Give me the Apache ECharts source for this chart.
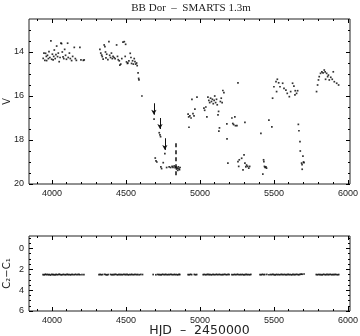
<!DOCTYPE html>
<html>
<head>
<meta charset="utf-8">
<title>BB Dor - SMARTS 1.3m</title>
<script src="https://cdn.jsdelivr.net/npm/echarts@6/dist/echarts.min.js"></script>
<style>
  html, body { margin: 0; padding: 0; background: #fff; }
  #chart { width: 360px; height: 336px; }
</style>
</head>
<body>
<div id="chart"></div>
<script>
// V light curve (HJD - 2450000, mag)
const hjd = [
  3941, 3946, 3952, 3957, 3962, 3964, 3970, 3976, 3980, 3986, 3993, 3998, 4003, 4008, 4012, 4016, 4022, 4027, 4032, 4038, 4043, 4049,
  4055, 4061, 4065, 4070, 4075, 4080, 4086, 4092, 4098, 4106, 4110, 4118, 4124, 4133, 4140, 4151, 4158, 4165, 4189, 4196, 4212, 4218,
  4324, 4330, 4336, 4340, 4346, 4353, 4358, 4362, 4365, 4370, 4378, 4385, 4390, 4396, 4402, 4408, 4413, 4420, 4427, 4437, 4443, 4448,
  4455, 4459, 4465, 4472, 4480, 4489, 4495, 4498, 4504, 4510, 4513, 4520, 4529, 4534, 4538, 4545, 4550, 4556, 4561, 4566, 4572, 4576,
  4582, 4586, 4588, 4608,
  4690, 4698, 4703, 4709, 4725, 4730, 4734, 4736, 4741, 4752, 4763, 4775, 4792, 4802, 4812, 4818, 4826, 4832, 4838, 4842, 4846, 4850,
  4854, 4858, 4862, 4866,
  4920, 4924, 4926, 4932, 4940, 4946, 4953, 4960, 4966, 4980,
  5027, 5032, 5040, 5047, 5054, 5060, 5066, 5072, 5078, 5084, 5090, 5096, 5100, 5106, 5112, 5117, 5122, 5126, 5128, 5132, 5138, 5144,
  5150, 5155, 5162, 5182, 5183, 5189,
  5216, 5222, 5228, 5236, 5240, 5250, 5257, 5304,
  5257, 5262, 5266, 5282, 5291, 5298, 5304, 5310, 5315, 5322, 5330, 5336,
  5412, 5425, 5430, 5432, 5436, 5440, 5446, 5450, 5466, 5486,
  5491, 5500, 5514, 5518, 5523, 5532, 5541, 5559, 5568, 5581, 5590, 5604, 5613, 5626, 5635, 5642, 5644, 5653, 5660,
  5665, 5669, 5676, 5678, 5687, 5690, 5691, 5696, 5700, 5703,
  5788, 5795, 5801, 5806, 5815, 5824, 5832, 5840, 5846, 5849, 5856, 5863, 5868, 5874, 5884, 5894, 5901, 5908, 5924, 5937
];
const vmag = [
  14.29, 14.05, 14.38, 14.06, 14.2, 14.39, 14.15, 14.3, 13.98, 14.25, 13.49, 14.33, 14.1, 14.36, 14.2, 13.91, 14.3, 14.12, 13.73, 14.21, 14.05, 14.44,
  14.25, 13.6, 13.62, 14.0, 14.22, 14.3, 13.88, 14.15, 14.33, 13.6, 14.25, 14.05, 14.3, 14.39, 14.2, 13.79, 14.3, 14.38, 13.79, 14.36, 14.38, 14.36,
  13.88, 14.05, 14.14, 14.21, 14.32, 13.68, 13.76, 14.0, 14.27, 14.1, 14.35, 13.53, 14.15, 14.25, 14.05, 14.3, 14.2, 14.25, 14.3, 13.68, 14.2, 14.35,
  14.4, 14.6, 14.55, 14.3, 13.55, 13.53, 14.2, 13.65, 14.45, 14.52, 14.5, 14.4, 14.06, 14.25, 14.52, 14.4, 14.55, 14.3, 14.44, 14.55, 14.5, 14.62,
  14.95, 15.2, 15.27, 16.0,
  17.05, 18.82, 18.95, 19.0, 17.67, 17.77, 17.85, 19.22, 19.3, 19.03, 18.62, 19.25, 19.22, 19.25, 19.2, 19.24, 19.18, 19.26, 19.22, 19.32, 19.28, 19.38,
  19.22, 19.3, 19.35, 19.25,
  16.82, 16.95, 17.42, 16.9, 17.0, 16.15, 16.8, 16.9, 16.6, 16.05,
  16.55, 16.65, 16.5, 16.95, 16.05, 16.2, 16.3, 16.1, 16.25, 16.15, 16.35, 16.2, 16.0, 16.3, 16.15, 16.4, 16.86, 16.7, 17.6, 17.45, 16.25, 16.1,
  16.3, 15.75, 15.85, 17.27, 17.95, 19.05,
  17.0, 17.25, 17.3, 16.95, 17.35, 17.35, 15.4, 17.2,
  18.98, 19.2, 18.9, 18.83, 19.36, 18.68, 19.05, 19.22, 19.14, 19.2, 19.28, 19.2,
  17.7, 19.55, 18.9, 18.98, 19.2, 19.25, 19.22, 19.28, 17.1, 17.4,
  16.1, 15.58, 15.35, 15.8, 15.24, 15.4, 15.58, 15.42, 15.65, 15.73, 15.88, 16.03, 15.8, 15.42, 15.55, 15.95, 15.76, 15.88, 15.76,
  17.29, 17.58, 18.07, 18.5, 19.05, 19.12, 19.33, 18.73, 19.0, 19.03,
  15.8, 15.5, 15.27, 15.12, 14.97, 14.9, 14.95, 14.82, 14.9, 15.24, 14.97, 15.12, 15.05, 15.27, 15.15, 15.24, 14.9, 15.35, 15.42, 15.5
];

// upper limits (arrows) and the dashed bar
const limitHjd = [4689, 4730, 4763];
const limitFrom = [16.33, 17.0, 17.92];
const limitTo = [16.85, 17.5, 18.45];
const barHjd = [4836];
const barFrom = [18.15];
const barTo = [19.72];

// comparison stars C2 - C1
const colorHjd = [
  3940, 3948, 3955, 3962, 3970, 3977, 3984, 3991, 3999, 4006, 4013, 4021, 4028, 4035, 4043, 4050, 4057, 4065, 4072, 4080, 4088, 4095,
  4103, 4110, 4118, 4126, 4133, 4141, 4150, 4158, 4166, 4175, 4183, 4190, 4203, 4216,
  4318, 4326, 4334, 4342, 4356, 4364, 4372, 4380, 4396, 4404, 4412, 4420, 4428, 4436, 4444, 4452, 4460, 4468, 4476, 4484, 4492, 4500,
  4508, 4516, 4524, 4532, 4540, 4548, 4556, 4564, 4572, 4580, 4590, 4600, 4612,
  4684, 4702, 4714, 4722, 4730, 4738, 4746, 4754, 4762, 4770, 4778, 4786, 4794, 4802, 4810, 4818, 4826, 4834, 4842, 4850, 4858, 4864,
  4920, 4928, 4936, 4944, 4962, 4970, 4978,
  5022, 5030, 5038, 5046, 5054, 5062, 5070, 5078, 5086, 5094, 5102, 5110, 5118, 5126, 5134, 5142, 5150, 5158, 5166, 5174, 5182, 5190, 5198,
  5216, 5224, 5232, 5240, 5248, 5256, 5264, 5272, 5280, 5288, 5296, 5304, 5312, 5320, 5328, 5336, 5344,
  5406, 5414, 5422, 5430, 5438, 5452, 5466, 5476, 5484, 5492, 5500, 5508, 5516, 5524, 5532, 5540, 5548, 5556, 5564, 5572, 5580, 5588,
  5596, 5604, 5612, 5620, 5628, 5636, 5644, 5652, 5660, 5668, 5676, 5684, 5692, 5704,
  5786, 5794, 5802, 5810, 5818, 5826, 5834, 5842, 5850, 5858, 5866, 5874, 5882, 5890, 5898, 5906, 5914, 5922, 5930, 5938
];
const colorVal = [
  2.50, 2.53, 2.47, 2.51, 2.49, 2.52, 2.50, 2.55, 2.48, 2.51, 2.50, 2.53, 2.49, 2.52, 2.50, 2.47, 2.51, 2.53, 2.50, 2.49, 2.52, 2.50,
  2.48, 2.51, 2.50, 2.53, 2.49, 2.50, 2.52, 2.48, 2.51, 2.50, 2.49, 2.52, 2.50, 2.51,
  2.51, 2.49, 2.52, 2.50, 2.48, 2.51, 2.53, 2.50, 2.49, 2.52, 2.50, 2.51, 2.48, 2.50, 2.53, 2.49, 2.51, 2.50, 2.52, 2.48, 2.50, 2.51,
  2.49, 2.53, 2.50, 2.51, 2.48, 2.52, 2.50, 2.49, 2.51, 2.50, 2.52, 2.49, 2.50,
  2.50, 2.52, 2.49, 2.51, 2.50, 2.53, 2.48, 2.50, 2.51, 2.49, 2.52, 2.50, 2.51, 2.48, 2.50, 2.52, 2.49, 2.51, 2.50, 2.53, 2.49, 2.50,
  2.50, 2.52, 2.48, 2.51, 2.49, 2.52, 2.50,
  2.51, 2.49, 2.52, 2.50, 2.48, 2.51, 2.50, 2.53, 2.49, 2.50, 2.52, 2.48, 2.51, 2.50, 2.49, 2.52, 2.50, 2.51, 2.48, 2.50, 2.52, 2.49, 2.50,
  2.50, 2.52, 2.49, 2.51, 2.50, 2.48, 2.52, 2.50, 2.51, 2.49, 2.53, 2.50, 2.48, 2.51, 2.50, 2.52, 2.49,
  2.50, 2.52, 2.48, 2.51, 2.50, 2.49, 2.52, 2.50, 2.51, 2.48, 2.50, 2.53, 2.49, 2.51, 2.50, 2.52, 2.48, 2.50, 2.51, 2.49, 2.52, 2.50,
  2.48, 2.51, 2.50, 2.53, 2.49, 2.50, 2.51, 2.48, 2.50, 2.52, 2.49, 2.46, 2.47, 2.45,
  2.50, 2.52, 2.49, 2.51, 2.50, 2.53, 2.48, 2.50, 2.52, 2.49, 2.51, 2.50, 2.48, 2.52, 2.50, 2.51, 2.49, 2.50, 2.52, 2.50
];

// ticks
const hjdLabels = [4000, 4500, 5000, 5500, 6000];
const hjdMinor = [3900, 4100, 4200, 4300, 4400, 4600, 4700, 4800, 4900, 5100, 5200, 5300, 5400, 5600, 5700, 5800, 5900];
const vLabels = [14, 16, 18, 20];
const vMinor = [13, 13.5, 14.5, 15, 15.5, 16.5, 17, 17.5, 18.5, 19, 19.5];
const cLabels = [0, 2, 4, 6];
const cMinor = [-1, -0.5, 0.5, 1, 1.5, 2.5, 3, 3.5, 4.5, 5, 5.5];

const labelFont = { color: '#222', fontSize: 9, fontFamily: 'Liberation Sans, Arial, sans-serif' };

function tickAxis(grid, position, range, ticks, len, labels, extra) {
  const ax = {
    type: 'value',
    gridIndex: grid,
    position: position,
    min: range[0],
    max: range[1],
    axisLine: { show: false, onZero: false },
    splitLine: { show: false },
    axisTick: { show: true, inside: true, length: len, customValues: ticks, lineStyle: { color: '#000', width: 1 } },
    axisLabel: labels
      ? Object.assign({ show: true, customValues: labels, margin: 5, formatter: function (v) { return String(v); } }, labelFont)
      : { show: false }
  };
  return Object.assign(ax, extra || {});
}

const hjdRange = [3845, 6014];
const vRange = [12.5, 20];
const cRange = [-1.2, 6];

const xAxes = [];
const yAxes = [];
[0, 1].forEach(function (g) {
  xAxes.push(tickAxis(g, 'bottom', hjdRange, hjdLabels, 4, hjdLabels,
    g === 1 ? {
      name: 'HJD  –  2450000', nameLocation: 'middle', nameGap: 13, nameMoveOverlap: false,
      nameTextStyle: { color: '#222', fontSize: 12.5, fontFamily: 'DejaVu Sans, sans-serif', padding: [0, 0, 0, 20] }
    } : null));
  xAxes.push(tickAxis(g, 'bottom', hjdRange, hjdMinor, 2, null));
  xAxes.push(tickAxis(g, 'top', hjdRange, hjdLabels, 4, null));
  xAxes.push(tickAxis(g, 'top', hjdRange, hjdMinor, 2, null));
});
yAxes.push(tickAxis(0, 'left', vRange, vLabels, 4, vLabels, {
  inverse: true, name: 'V', nameLocation: 'middle', nameGap: 17, nameRotate: 90, nameMoveOverlap: false,
  nameTextStyle: { color: '#222', fontSize: 10, fontFamily: 'Liberation Sans, sans-serif' }
}));
yAxes.push(tickAxis(0, 'left', vRange, vMinor, 2, null, { inverse: true }));
yAxes.push(tickAxis(0, 'right', vRange, vLabels, 4, null, { inverse: true }));
yAxes.push(tickAxis(0, 'right', vRange, vMinor, 2, null, { inverse: true }));
yAxes.push(tickAxis(1, 'left', cRange, cLabels, 4, cLabels, {
  inverse: true, name: 'C₂−C₁', nameLocation: 'middle', nameGap: 17, nameRotate: 90, nameMoveOverlap: false,
  nameTextStyle: { color: '#222', fontSize: 10, fontFamily: 'DejaVu Sans, sans-serif' }
}));
yAxes.push(tickAxis(1, 'left', cRange, cMinor, 2, null, { inverse: true }));
yAxes.push(tickAxis(1, 'right', cRange, cLabels, 4, null, { inverse: true }));
yAxes.push(tickAxis(1, 'right', cRange, cMinor, 2, null, { inverse: true }));

const lcData = hjd.map(function (t, i) { return [t, vmag[i]]; });
const colData = colorHjd.map(function (t, i) { return [t, colorVal[i]]; });
const arrows = limitHjd.map(function (t, i) {
  return [{ coord: [t, limitFrom[i]] }, { coord: [t, limitTo[i]] }];
});
const bars = barHjd.map(function (t, i) {
  return [{ coord: [t, barFrom[i]] }, { coord: [t, barTo[i]] }];
});

const myChart = echarts.init(document.getElementById('chart'), null, { renderer: 'canvas' });
myChart.setOption({
  animation: false,
  backgroundColor: '#fff',
  graphic: [{
    type: 'text',
    x: 191,
    y: 8,
    style: {
      text: 'BB Dor  –  SMARTS 1.3m',
      align: 'center',
      verticalAlign: 'middle',
      fill: '#222',
      font: '11px "Liberation Serif", serif'
    }
  }],
  grid: [
    { left: 29, right: 10, top: 19, height: 165, show: true, borderColor: '#222', borderWidth: 1,
      containLabel: false, outerBoundsMode: 'none' },
    { left: 29, right: 10, top: 236, height: 75, show: true, borderColor: '#222', borderWidth: 1,
      containLabel: false, outerBoundsMode: 'none' }
  ],
  xAxis: xAxes,
  yAxis: yAxes,
  series: [
    {
      type: 'scatter',
      xAxisIndex: 0,
      yAxisIndex: 0,
      symbol: 'rect',
      symbolSize: 1.7,
      itemStyle: { color: '#000' },
      data: lcData,
      markLine: {
        silent: true,
        symbol: ['none', 'arrow'],
        symbolSize: [4, 5],
        label: { show: false },
        lineStyle: { color: '#111', width: 1, type: 'solid' },
        data: arrows
      }
    },
    {
      type: 'scatter',
      xAxisIndex: 0,
      yAxisIndex: 0,
      symbolSize: 0,
      data: [],
      markLine: {
        silent: true,
        symbol: ['none', 'none'],
        label: { show: false },
        lineStyle: { color: '#111', width: 1.5, type: [4, 3] },
        data: bars
      }
    },
    {
      type: 'scatter',
      xAxisIndex: 4,
      yAxisIndex: 4,
      symbol: 'rect',
      symbolSize: 1.7,
      itemStyle: { color: '#000' },
      data: colData
    }
  ]
});
</script>
</body>
</html>
